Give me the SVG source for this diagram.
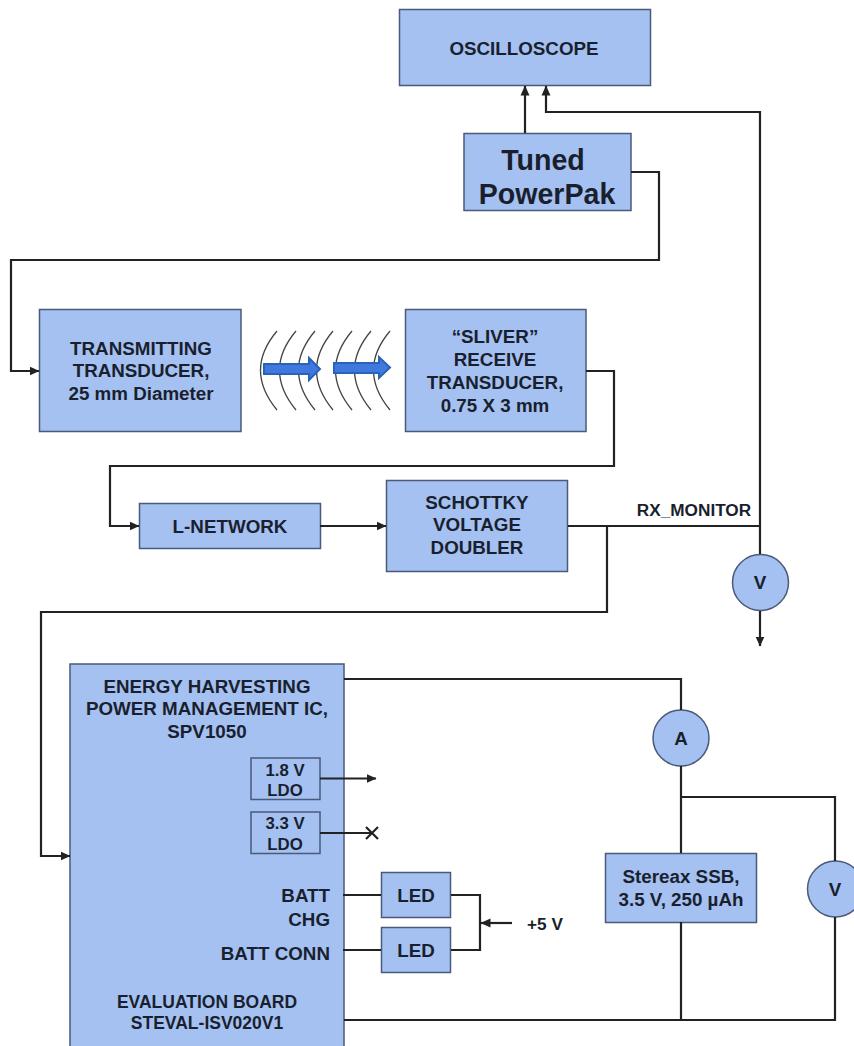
<svg xmlns="http://www.w3.org/2000/svg" width="854" height="1046" viewBox="0 0 854 1046">
<style>
.b{fill:#a4c1f2;stroke:#4a5a78;stroke-width:1.5}
.c{fill:none;stroke:#222;stroke-width:2.2}
.w{fill:none;stroke:#444;stroke-width:1.3}
text{font-family:"Liberation Sans",Arial,sans-serif;font-weight:bold;fill:#1a1f2e;font-size:18.800px;text-anchor:middle}
.r{text-anchor:end}
.m{fill:#3f79e0;stroke:#2a62b8;stroke-width:2}
.s{font-size:16.800px}
.p{font-size:28.600px}
</style>
<defs>
<marker id="a" markerWidth="11" markerHeight="11" refX="9.500" refY="5" orient="auto" markerUnits="userSpaceOnUse"><path d="M0 0.500L10 5L0 9.500Z" fill="#222"/></marker>
</defs>
<rect width="854" height="1046" fill="#fff"/>
<g id="waves">
<path class="w" d="M277 331Q244 370 277 410M296 331Q263 370 296 410M315 331Q282 370 315 410M333 331Q300 370 333 410M352 331Q319 370 352 410M371 331Q338 370 371 410M390 331Q357 370 390 410"/>
<path class="m" d="M264 364H309V358L320 369L309 380V374H264Z"/>
<path class="m" d="M334 363H379V357L390 367.500L379 378V373H334Z"/>
</g>
<g id="oscilloscope"><rect class="b" x="399.500" y="9.500" width="251" height="76"/><text x="524" y="55">OSCILLOSCOPE</text></g>
<g id="powerpak"><rect class="b" x="464" y="133.500" width="167" height="77"/><text x="543" y="170" class="p">Tuned</text><text x="547" y="204" class="p">PowerPak</text></g>
<g id="tx"><rect class="b" x="39.500" y="309.500" width="201.500" height="122"/><text x="141" y="355">TRANSMITTING</text><text x="141" y="377">TRANSDUCER,</text><text x="141" y="400">25 mm Diameter</text></g>
<g id="rx"><rect class="b" x="405.500" y="309.500" width="180.500" height="122"/><text x="495" y="343">“SLIVER”</text><text x="495" y="366">RECEIVE</text><text x="495" y="389">TRANSDUCER,</text><text x="495" y="412">0.75 X 3 mm</text></g>
<g id="lnet"><rect class="b" x="139.500" y="503.500" width="181" height="45"/><text x="230" y="533">L-NETWORK</text></g>
<g id="doubler"><rect class="b" x="386.500" y="480.500" width="181" height="91"/><text x="477" y="509">SCHOTTKY</text><text x="477" y="531">VOLTAGE</text><text x="477" y="554">DOUBLER</text></g>
<g id="rxmon"><text x="694" y="516" style="font-size:17.200px">RX_MONITOR</text></g>
<g id="vm1"><circle class="b" cx="760.500" cy="582.500" r="28"/><text x="760" y="589">V</text></g>
<g id="ic"><rect class="b" x="70" y="664" width="274" height="383"/><text x="207" y="693">ENERGY HARVESTING</text><text x="207" y="715">POWER MANAGEMENT IC,</text><text x="207" y="738">SPV1050</text><text x="207" y="1008" style="font-size:17.500px">EVALUATION BOARD</text><text x="207" y="1029" style="font-size:17.500px">STEVAL-ISV020V1</text><text class="r" x="330" y="902">BATT</text><text class="r" x="330" y="926">CHG</text><text class="r" x="330" y="960">BATT CONN</text></g>
<g id="ldo18"><rect class="b" x="251" y="758" width="69" height="41.500"/><text x="285" y="775.500" class="s">1.8 V</text><text x="285" y="796" class="s">LDO</text></g>
<g id="ldo33"><rect class="b" x="251" y="812" width="69" height="41.500"/><text x="285" y="829" class="s">3.3 V</text><text x="285" y="850" class="s">LDO</text></g>
<g id="led1"><rect class="b" x="381.500" y="872.500" width="69" height="45"/><text x="416" y="902">LED</text></g>
<g id="led2"><rect class="b" x="381.500" y="927.500" width="69" height="45"/><text x="416" y="957">LED</text></g>
<g id="plus5"><text x="545" y="930" style="font-size:17.200px">+5 V</text></g>
<g id="am"><circle class="b" cx="681" cy="738" r="28"/><text x="681" y="745">A</text></g>
<g id="batt"><rect class="b" x="605.500" y="853.500" width="151" height="69"/><text x="681" y="883">Stereax SSB,</text><text x="681" y="906">3.5 V, 250 µAh</text></g>
<g id="vm2"><circle class="b" cx="835.500" cy="889" r="28"/><text x="835" y="896">V</text></g>
<g id="connectors">
<path class="c" d="M525 133V86" marker-end="url(#a)"/>
<path class="c" d="M760 554V112H546V86" marker-end="url(#a)"/>
<path class="c" d="M631 172H659V260H11V371H39" marker-end="url(#a)"/>
<path class="c" d="M586 371H614V466H110V526H139" marker-end="url(#a)"/>
<path class="c" d="M320 526H386" marker-end="url(#a)"/>
<path class="c" d="M568 526H760"/>
<path class="c" d="M607 526V612H41V856H70" marker-end="url(#a)"/>
<path class="c" d="M760 611V646" marker-end="url(#a)"/>
<path class="c" d="M344 679H681V710"/>
<path class="c" d="M681 766V853"/>
<path class="c" d="M681 797H835V861"/>
<path class="c" d="M835 917V1020H344"/>
<path class="c" d="M681 922V1020"/>
<path class="c" d="M320 778.500H376" marker-end="url(#a)"/>
<path class="c" d="M320 833H372"/>
<path class="c" d="M366 827L378 839M378 827L366 839"/>
<path class="c" d="M343 895H381M343 950H381"/>
<path class="c" d="M451 895H480V950H451"/>
<path class="c" d="M512 923H481" marker-end="url(#a)"/>
</g>
</svg>
